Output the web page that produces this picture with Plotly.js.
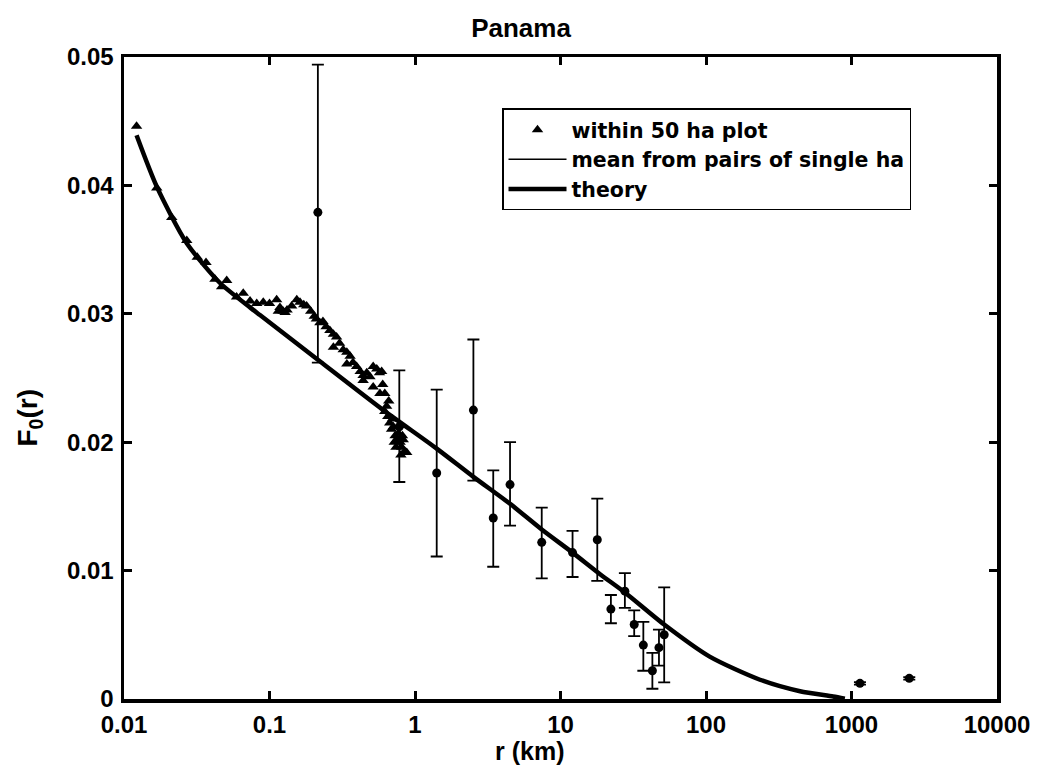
<!DOCTYPE html>
<html>
<head>
<meta charset="utf-8">
<script src="https://cdn.plot.ly/plotly-3.0.1.min.js"></script>
<style>html,body{margin:0;padding:0;background:#fff;}#chart{width:1040px;height:769px;}</style>
</head>
<body>
<div id="chart"></div>
<script>
// Triangles: within 50 ha plot
const triX = [0.0122,0.0168,0.0213,0.027,0.0319,0.0366,0.0422,0.0469,0.0508,0.0594,0.066,0.0735,0.0817,0.0906,0.100,0.112,0.118,0.124,0.132,0.142,0.154,0.162,0.172,0.180,0.192,0.203,0.21,0.222,0.233,0.245,0.26,0.275,0.289,0.303,0.321,0.34,0.358,0.375,0.397,0.42,0.44,0.466,0.49,0.516,0.546,0.57,0.59,0.60,0.62,0.638,0.65,0.67,0.69,0.71,0.73,0.75,0.77,0.79,0.81,0.83,0.85,0.877,
  0.115,0.128,0.275,0.34,0.44,0.516,0.574,0.62,0.66,0.70,0.72,0.74,0.78,0.80,0.82];
const triY = [0.0446,0.0398,0.0375,0.0357,0.0344,0.0340,0.0327,0.0321,0.0326,0.0313,0.0316,0.0310,0.0308,0.0309,0.0308,0.0311,0.0305,0.0302,0.0303,0.0306,0.0311,0.0309,0.0307,0.0306,0.0302,0.0298,0.0296,0.0293,0.0294,0.0290,0.0287,0.0284,0.0282,0.0277,0.0272,0.0270,0.0267,0.0262,0.0259,0.0255,0.0252,0.0254,0.0251,0.0259,0.0257,0.0254,0.0255,0.0245,0.0238,0.0228,0.0220,0.0215,0.0210,0.0212,0.0205,0.0202,0.0207,0.0200,0.0196,0.0202,0.0193,0.0192,
  0.0302,0.0301,0.0274,0.0261,0.0248,0.0243,0.0238,0.0224,0.0232,0.0218,0.0200,0.0196,0.0213,0.0190,0.0205];

// Circles: mean from pairs of single ha, with error bars
const meanX = [0.215,0.78,1.41,2.52,3.45,4.5,7.43,12.1,17.9,22.2,27.7,32.1,37.1,42.8,47.5,51.6,1143,2495];
const meanY = [0.0379,0.0212,0.0176,0.0225,0.0141,0.0167,0.0122,0.0114,0.0124,0.0070,0.0084,0.0058,0.0042,0.0022,0.0040,0.0050,0.00122,0.00161];
const meanHi = [0.0494,0.0256,0.0241,0.0280,0.0178,0.0200,0.0149,0.0131,0.0156,0.0081,0.0098,0.0069,0.0060,0.0036,0.0054,0.0087,0.00132,0.00171];
const meanLo = [0.0262,0.0169,0.0111,0.0170,0.0103,0.0135,0.0094,0.0095,0.0092,0.0059,0.0071,0.0049,0.0022,0.0008,0.0026,0.0013,0.00112,0.00151];

// Theory curve
const thX = [0.0122,0.0168,0.027,0.0457,0.0735,0.086,0.216,0.605,1.41,2.52,4.5,7.43,12.1,18.8,27.7,51.6,106,235,443,747,900];
const thY = [0.0439,0.0399,0.0355,0.0324,0.0305,0.0299,0.0264,0.0225,0.0195,0.0173,0.0152,0.0132,0.0114,0.0097,0.0083,0.0058,0.0033,0.0015,0.0006,0.0002,0.00003];

const xTicks = [0.01,0.1,1,10,100,1000,10000];
const xTickText = ['0.01','0.1','1','10','100','1000','10000'];
const yTicks = [0,0.01,0.02,0.03,0.04,0.05];
const yTickText = ['0','0.01','0.02','0.03','0.04','0.05'];

const errPlus = meanHi.map((h,i)=>h-meanY[i]);
const errMinus = meanY.map((m,i)=>m-meanLo[i]);

const FONT = 'Liberation Sans, Arial, Helvetica, sans-serif';
const LFONT = 'DejaVu Sans, Liberation Sans, Arial, sans-serif';

const traces = [
  {x: triX, y: triY, type:'scatter', mode:'markers', name:'within 50 ha plot',
   marker:{symbol:'triangle-up', size:10, color:'#000'}},
  {x:[null], y:[null], type:'scatter', mode:'lines', name:'mean from pairs of single ha',
   line:{color:'#000', width:1.5}},
  {x: thX, y: thY, type:'scatter', mode:'lines', name:'theory',
   line:{color:'#000', width:4.5, shape:'spline', smoothing:0.7}},
  {x: meanX, y: meanY, type:'scatter', mode:'markers', showlegend:false,
   marker:{symbol:'circle', size:9, color:'#000'},
   error_y:{type:'data', symmetric:false, array:errPlus, arrayminus:errMinus, color:'#000', thickness:1.8, width:6}}
];

const layout = {
  width:1040, height:769,
  paper_bgcolor:'#fff', plot_bgcolor:'#fff',
  margin:{l:124, r:43, t:57, b:70},
  font:{family:FONT, size:24, color:'#000', weight:'bold'},
  title:{text:'Panama', x:0.501, xanchor:'center', y:0.964, yanchor:'middle',
         font:{family:FONT, size:26, color:'#000', weight:'bold'}},
  showlegend:true,
  legend:{x:0.433, y:0.92, xanchor:'left', yanchor:'top', bgcolor:'#fff',
          bordercolor:'#000', borderwidth:1.5, tracegroupgap:0, itemwidth:58,
          font:{family:LFONT, size:20.5, color:'#000', weight:'bold'}},
  xaxis:{type:'log', range:[-2,4], tickvals:xTicks, ticktext:xTickText,
         ticks:'inside', ticklen:8, tickwidth:3, tickcolor:'#000',
         showline:true, linewidth:3.5, linecolor:'#000', mirror:'ticks',
         showgrid:false, zeroline:false, ticklabelstandoff:2,
         tickfont:{family:FONT, size:24, color:'#000', weight:'bold'}},
  yaxis:{range:[0,0.05], tickvals:yTicks, ticktext:yTickText,
         ticks:'inside', ticklen:8, tickwidth:3, tickcolor:'#000',
         showline:true, linewidth:3.5, linecolor:'#000', mirror:'ticks',
         showgrid:false, zeroline:false, ticklabelstandoff:2,
         tickfont:{family:FONT, size:24, color:'#000', weight:'bold'}},
  annotations:[
    {text:'r (km)', xref:'paper', yref:'paper', x:0.465, y:-0.081, xanchor:'center', yanchor:'middle',
     showarrow:false, font:{family:FONT, size:25, color:'#000', weight:'bold'}},
    {text:'F<sub>0</sub>(r)', xref:'paper', yref:'paper', x:-0.108, y:0.438, xanchor:'center', yanchor:'middle',
     textangle:-90, showarrow:false, font:{family:FONT, size:28, color:'#000', weight:'bold'}}
  ]
};

Plotly.newPlot('chart', traces, layout, {displayModeBar:false, staticPlot:true});
</script>
</body>
</html>
